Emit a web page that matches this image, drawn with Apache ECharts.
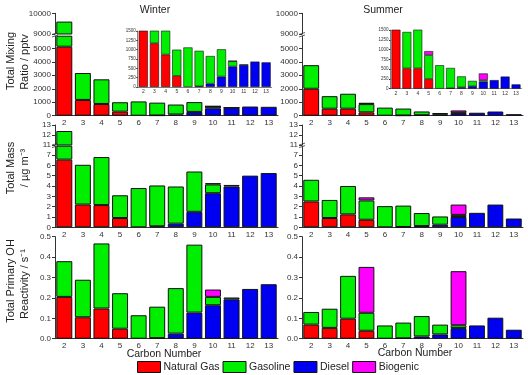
<!DOCTYPE html>
<html>
<head>
<meta charset="utf-8">
<script src="https://cdn.jsdelivr.net/npm/echarts@6/dist/echarts.min.js"></script>
<style>
html, body { margin: 0; padding: 0; background: #fff; }
#chart { width: 528px; height: 375px; }
</style>
</head>
<body>
<div id="chart"></div>
<script>
const carbonNumbers = ['2', '3', '4', '5', '6', '7', '8', '9', '10', '11', '12', '13']
const sourceNames = ['Natural Gas', 'Gasoline', 'Diesel', 'Biogenic']

// total mixing ratio / pptv
const winterMixNaturalGas = [5120, 1170, 870, 300, 0, 0, 0, 0, 0, 0, 0, 0]
const winterMixGasoline = [4480, 2000, 1830, 700, 1060, 950, 740, 730, 140, 10, 0, 0]
const winterMixDiesel = [0, 0, 0, 0, 0, 20, 90, 280, 550, 590, 680, 660]
const winterMixBiogenic = [0, 0, 0, 0, 0, 0, 0, 0, 10, 0, 0, 0]
const summerMixNaturalGas = [2000, 520, 520, 250, 0, 0, 0, 0, 0, 0, 0, 0]
const summerMixGasoline = [1750, 930, 1110, 610, 600, 515, 280, 135, 40, 0, 0, 0]
const summerMixDiesel = [0, 0, 0, 0, 0, 15, 35, 65, 180, 220, 310, 110]
const summerMixBiogenic = [0, 0, 0, 100, 0, 0, 0, 0, 170, 0, 0, 0]

// total mass / ug m-3
const winterMassNaturalGas = [6.55, 2.2, 2.15, 0.9, 0, 0, 0, 0, 0, 0, 0, 0]
const winterMassGasoline = [5.85, 3.85, 4.65, 2.2, 3.8, 3.95, 3.6, 3.9, 0.85, 0.15, 0, 0]
const winterMassDiesel = [0, 0, 0, 0, 0, 0.1, 0.35, 1.5, 3.3, 3.95, 5.0, 5.25]
const winterMassBiogenic = [0, 0, 0, 0, 0, 0, 0, 0, 0.12, 0, 0, 0]
const summerMassNaturalGas = [2.5, 0.9, 1.25, 0.73, 0, 0, 0, 0, 0, 0, 0, 0]
const summerMassGasoline = [2.1, 1.75, 2.75, 1.87, 2.05, 2.07, 1.26, 0.8, 0.2, 0, 0, 0]
const summerMassDiesel = [0, 0, 0, 0, 0, 0.03, 0.12, 0.25, 1.0, 1.4, 2.2, 0.85]
const summerMassBiogenic = [0, 0, 0, 0.3, 0, 0, 0, 0, 1.0, 0, 0, 0]

// total primary OH reactivity / s-1
const winterOhNaturalGas = [0.205, 0.105, 0.148, 0.049, 0, 0, 0, 0, 0, 0, 0, 0]
const winterOhGasoline = [0.175, 0.184, 0.319, 0.174, 0.115, 0.154, 0.223, 0.333, 0.041, 0.009, 0, 0]
const winterOhDiesel = [0, 0, 0, 0, 0, 0.003, 0.025, 0.128, 0.164, 0.193, 0.244, 0.267]
const winterOhBiogenic = [0, 0, 0, 0, 0, 0, 0, 0, 0.036, 0, 0, 0]
const summerOhNaturalGas = [0.069, 0.053, 0.098, 0.039, 0, 0, 0, 0, 0, 0, 0, 0]
const summerOhGasoline = [0.062, 0.094, 0.21, 0.088, 0.065, 0.077, 0.1, 0.048, 0.014, 0, 0, 0]
const summerOhDiesel = [0, 0, 0, 0, 0, 0.002, 0.011, 0.021, 0.052, 0.065, 0.103, 0.044]
const summerOhBiogenic = [0, 0, 0, 0.225, 0, 0, 0, 0, 0.265, 0, 0, 0]

// tick labels
const mixTicksLow = [0, 1000, 2000, 3000, 4000, 5000]
const mixTicksHigh = [9000, 10000]
const massTicksLow = [0, 1, 2, 3, 4, 5, 6, 7]
const massTicksHigh = [11, 12, 13]
const ohTicks = [0, 0.1, 0.2, 0.3, 0.4, 0.5]
const insetTicks = [0, 250, 500, 750, 1000, 1250, 1500]

const colors = ['#ff0000', '#00ee00', '#0000f0', '#ff00ff']
// bars are stacked natural gas, diesel, gasoline, biogenic from the bottom up
const stackOrder = [0, 2, 1, 3]
const font = '"Liberation Sans", Arial, sans-serif'
const axisColor = '#333'

const grids = []
const xAxes = []
const yAxes = []
const series = []

function addPanel(box, range, ticks, stacks, opts) {
  opts = opts || {}
  const i = grids.length
  const small = !!opts.inset
  grids.push({ left: box[0], top: box[1], width: box[2], height: box[3], containLabel: false })
  xAxes.push({
    type: 'category',
    gridIndex: i,
    data: carbonNumbers,
    show: !opts.hideX,
    axisLine: { lineStyle: { color: axisColor, width: small ? 0.6 : 1 } },
    axisTick: { alignWithLabel: true, length: small ? 1.5 : 2.5, lineStyle: { color: axisColor } },
    axisLabel: { fontSize: small ? 5 : 8, color: '#333', margin: small ? 2 : 3, fontFamily: font, interval: 0 }
  })
  yAxes.push({
    type: 'value',
    gridIndex: i,
    min: range[0],
    max: range[1],
    axisLine: { show: true, lineStyle: { color: axisColor, width: small ? 0.6 : 1 } },
    axisTick: { show: true, length: small ? 1.5 : 3, customValues: ticks, lineStyle: { color: axisColor } },
    axisLabel: {
      customValues: ticks,
      fontSize: small ? 4.5 : 8,
      color: '#333',
      margin: small ? 2 : 4,
      fontFamily: font,
      formatter: opts.fmt || (v => String(v))
    },
    splitLine: { show: false }
  })
  stackOrder.forEach(k => {
    series.push({
      type: 'bar',
      name: sourceNames[k],
      xAxisIndex: i,
      yAxisIndex: i,
      stack: 'g' + i,
      barCategoryGap: small ? '18%' : '14%',
      itemStyle: { color: colors[k], borderColor: '#111', borderWidth: small ? 0.6 : 1 },
      emphasis: { disabled: true },
      data: stacks[k].map(v => (v === 0 ? { value: 0, itemStyle: { borderWidth: 0 } } : v))
    })
  })
}

const winterCol = [55, 223]
const summerCol = [302, 221]

const winterMix = [winterMixNaturalGas, winterMixGasoline, winterMixDiesel, winterMixBiogenic]
const summerMix = [summerMixNaturalGas, summerMixGasoline, summerMixDiesel, summerMixBiogenic]
const winterMass = [winterMassNaturalGas, winterMassGasoline, winterMassDiesel, winterMassBiogenic]
const summerMass = [summerMassNaturalGas, summerMassGasoline, summerMassDiesel, summerMassBiogenic]
const winterOh = [winterOhNaturalGas, winterOhGasoline, winterOhDiesel, winterOhBiogenic]
const summerOh = [summerOhNaturalGas, summerOhGasoline, summerOhDiesel, summerOhBiogenic]

// top row (broken axis: two grids)
addPanel([winterCol[0], 13.3, winterCol[1], 20.7], [9000, 10000], mixTicksHigh, winterMix, { hideX: true })
addPanel([winterCol[0], 36.2, winterCol[1], 79.5], [0, 5900], mixTicksLow, winterMix)
addPanel([summerCol[0], 13.3, summerCol[1], 20.7], [9000, 10000], mixTicksHigh, summerMix, { hideX: true })
addPanel([summerCol[0], 36.2, summerCol[1], 79.5], [0, 5900], mixTicksLow, summerMix)

// middle row (broken axis)
addPanel([winterCol[0], 125, winterCol[1], 20], [11, 13], massTicksHigh, winterMass, { hideX: true })
addPanel([winterCol[0], 146.2, winterCol[1], 81.1], [0, 7.85], massTicksLow, winterMass)
addPanel([summerCol[0], 125, summerCol[1], 20], [11, 13], massTicksHigh, summerMass, { hideX: true })
addPanel([summerCol[0], 146.2, summerCol[1], 81.1], [0, 7.85], massTicksLow, summerMass)

// bottom row
const oneDecimal = v => v.toFixed(1)
addPanel([winterCol[0], 236.7, winterCol[1], 102], [0, 0.5], ohTicks, winterOh, { fmt: oneDecimal })
addPanel([summerCol[0], 236.7, summerCol[1], 102], [0, 0.5], ohTicks, summerOh, { fmt: oneDecimal })

// insets
addPanel([137.7, 31, 134, 56], [0, 1500], insetTicks, winterMix, { inset: true })
addPanel([390.5, 30, 131, 58.7], [0, 1500], insetTicks, summerMix, { inset: true })

function label(text, x, y, size, rot) {
  return {
    type: 'text',
    x: x,
    y: y,
    rotation: rot ? Math.PI / 2 : 0,
    z: 100,
    style: { text: text, fill: '#222', fontSize: size, fontFamily: font, align: 'center', verticalAlign: 'middle' }
  }
}

function breakMark(x, y) {
  return {
    type: 'group',
    z: 100,
    children: [
      { type: 'rect', shape: { x: x - 1.5, y: y - 1.5, width: 3, height: 3 }, style: { fill: '#fff' } },
      { type: 'line', shape: { x1: x - 3, y1: y - 0.5, x2: x + 3, y2: y - 2.5 }, style: { stroke: '#333', lineWidth: 0.8 } },
      { type: 'line', shape: { x1: x - 3, y1: y + 2, x2: x + 3, y2: y }, style: { stroke: '#333', lineWidth: 0.8 } }
    ]
  }
}

const option = {
  backgroundColor: '#fff',
  animation: false,
  grid: grids,
  xAxis: xAxes,
  yAxis: yAxes,
  series: series,
  legend: {
    data: sourceNames,
    left: 137,
    top: 361,
    padding: 0,
    icon: 'rect',
    itemWidth: 23,
    itemHeight: 11,
    itemGap: 3,
    selectedMode: false,
    itemStyle: { borderColor: '#111', borderWidth: 1 },
    textStyle: { fontSize: 10.5, color: '#222', fontFamily: font, padding: [0, 0, 0, -2] }
  },
  graphic: [
    label('Winter', 155, 10, 10.5),
    label('Summer', 383, 10, 10.5),
    label('Carbon Number', 164, 354, 10.5),
    label('Carbon Number', 415, 353, 10.5),
    label('Total Mixing', 11, 61, 11, true),
    label('Ratio / pptv', 25, 62, 11, true),
    label('Total Mass', 11, 168, 11, true),
    label('/ \u00b5g m\u207b\u00b3', 25, 168, 11, true),
    label('Total Primary OH', 11, 281, 11, true),
    label('Reactivity / s\u207b\u00b9', 25, 284, 11, true),
    breakMark(55, 35),
    breakMark(302, 35),
    breakMark(55, 145.6),
    breakMark(302, 145.6)
  ]
}

const myChart = echarts.init(document.getElementById('chart'), null, { renderer: 'canvas' })
myChart.setOption(option)
</script>
</body>
</html>
